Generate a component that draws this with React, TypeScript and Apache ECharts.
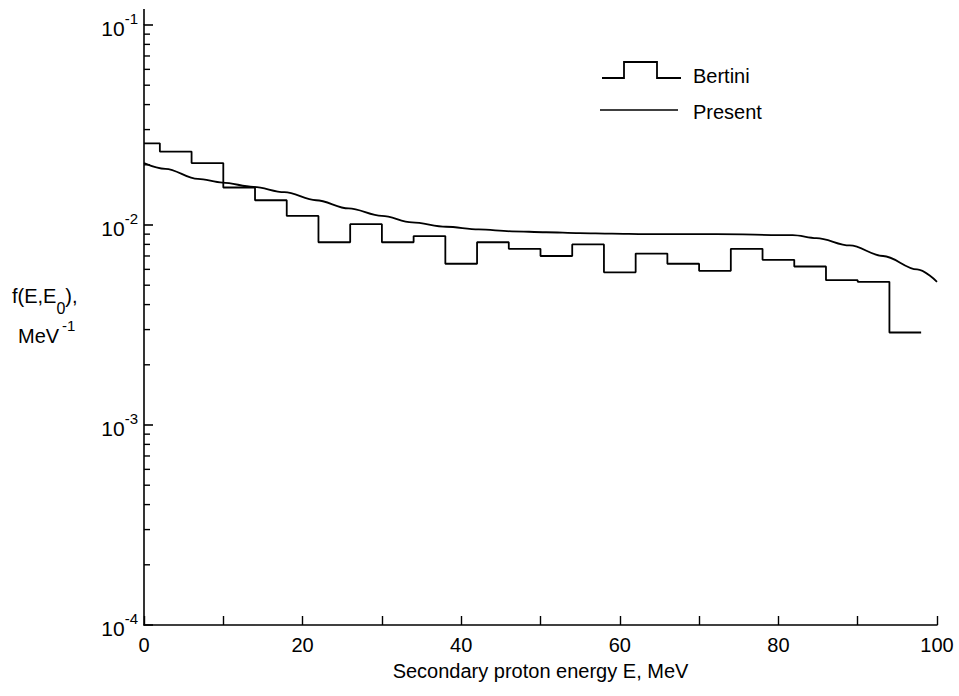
import React, { useEffect, useRef } from "react";
import * as echarts from "echarts";

// Bertini histogram: bin edges (MeV) and bin values (MeV^-1)
const bertiniEdges = [0, 2, 6, 10, 14, 18, 22, 26, 30, 34, 38, 42, 46, 50, 54, 58, 62, 66, 70, 74, 78, 82, 86, 90, 94, 98];
const bertiniValues = [
  0.0256, 0.0233, 0.0204, 0.0154, 0.0133, 0.0111, 0.0082, 0.0101, 0.0082, 0.0088,
  0.0064, 0.0082, 0.0076, 0.0070, 0.0080, 0.0058, 0.0072, 0.0064, 0.0059, 0.0076,
  0.0067, 0.0062, 0.0053, 0.0052, 0.0029,
];

// Present calculation (smooth curve)
const presentE = [0, 2.7, 6.8, 9.9, 13.8, 17.7, 21.7, 25.8, 30, 33.8, 38.1, 42.2, 46.4, 50.7, 54.9, 59, 63.3, 67.5, 72.2, 81.8, 84.8, 89, 93.2, 97.5, 100];
const presentF = [
  0.0204, 0.0191, 0.0170, 0.0163, 0.0155, 0.0146, 0.0133, 0.0121, 0.0111, 0.0103,
  0.0098, 0.0095, 0.0093, 0.0092, 0.0091, 0.00905, 0.009, 0.009, 0.009, 0.0089,
  0.0086, 0.0079, 0.007, 0.006, 0.0052,
];

// Axis structure
const xTickLabels = [0, 20, 40, 60, 80, 100];
const yMinorTicks = [
  2e-4, 3e-4, 4e-4, 5e-4, 6e-4, 7e-4, 8e-4, 9e-4,
  2e-3, 3e-3, 4e-3, 5e-3, 6e-3, 7e-3, 8e-3, 9e-3,
  2e-2, 3e-2, 4e-2, 5e-2, 6e-2, 7e-2, 8e-2, 9e-2,
];

const FONT = "'Liberation Sans', Arial, Helvetica, sans-serif";

export default function App() {
  const ref = useRef<HTMLDivElement>(null);

  useEffect(() => {
    if (!ref.current) return;
    const chart = echarts.init(ref.current, null, { renderer: "svg" });

    const histData: [number, number][] = bertiniEdges.map((e, i) => [
      e,
      bertiniValues[Math.min(i, bertiniValues.length - 1)],
    ]);
    const presentData: [number, number][] = presentE.map((e, i) => [e, presentF[i]]);

    const option: any = {
      animation: false,
      backgroundColor: "#ffffff",
      textStyle: { fontFamily: FONT, color: "#000" },
      grid: { left: 144, right: 22, top: 25, bottom: 71 },
      xAxis: {
        type: "value",
        min: 0,
        max: 100,
        interval: 10,
        name: "Secondary proton energy E, MeV",
        nameLocation: "middle",
        nameGap: 36,
        nameTextStyle: { fontFamily: FONT, fontSize: 20, color: "#000" },
        axisLine: { lineStyle: { color: "#000", width: 1.6 } },
        axisTick: { inside: true, length: 9, lineStyle: { color: "#000", width: 1.4 } },
        axisLabel: {
          margin: 10,
          fontFamily: FONT,
          fontSize: 20,
          color: "#000",
          formatter: (v: number) => (xTickLabels.includes(v) ? String(v) : ""),
        },
        splitLine: { show: false },
      },
      yAxis: {
        type: "log",
        logBase: 10,
        min: 1e-4,
        max: 1e-1,
        axisLine: { show: true, lineStyle: { color: "#000", width: 1.6 } },
        axisTick: { inside: true, length: 9, lineStyle: { color: "#000", width: 1.6 } },
        axisLabel: {
          margin: 6,
          formatter: (v: number) => `{b|10}{s|${Math.round(Math.log10(v))}}`,
          rich: {
            b: { fontFamily: FONT, fontSize: 21, color: "#000", lineHeight: 28, verticalAlign: "bottom" },
            s: { fontFamily: FONT, fontSize: 15, color: "#000", lineHeight: 16, verticalAlign: "top" },
          },
        },
        splitLine: { show: false },
      },
      series: [
        {
          name: "Bertini",
          type: "line",
          step: "end",
          data: histData,
          symbol: "none",
          lineStyle: { color: "#000", width: 1.8 },
          silent: true,
        },
        {
          name: "Present",
          type: "line",
          smooth: 0.35,
          smoothMonotone: "x",
          data: presentData,
          symbol: "none",
          lineStyle: { color: "#000", width: 1.8 },
          silent: true,
        },
        {
          name: "minorTicks",
          type: "custom",
          silent: true,
          clip: false,
          data: yMinorTicks.map((v) => [0, v]),
          encode: { x: 0, y: 1 },
          renderItem: (params: any, api: any) => {
            const p = api.coord([0, api.value(1)]);
            return {
              type: "line",
              shape: { x1: p[0], y1: p[1], x2: p[0] + 6, y2: p[1] },
              style: { stroke: "#000", lineWidth: 1.4 },
            };
          },
        },
      ],
      graphic: [
        {
          type: "line",
          shape: { x1: 144, y1: 9, x2: 144, y2: 25 },
          style: { stroke: "#000", lineWidth: 1.6 },
        },
        {
          type: "polyline",
          shape: { points: [[602, 78], [624, 78], [624, 62], [657, 62], [657, 78], [681, 78]] },
          style: { stroke: "#000", lineWidth: 1.8, fill: null },
        },
        {
          type: "text",
          x: 693,
          y: 76,
          style: { text: "Bertini", fontFamily: FONT, fontSize: 20, fill: "#000", verticalAlign: "middle" },
        },
        {
          type: "line",
          shape: { x1: 600, y1: 110, x2: 678, y2: 110 },
          style: { stroke: "#000", lineWidth: 1.6 },
        },
        {
          type: "text",
          x: 693,
          y: 112,
          style: { text: "Present", fontFamily: FONT, fontSize: 20, fill: "#000", verticalAlign: "middle" },
        },
        {
          type: "text",
          x: 12,
          y: 286,
          style: {
            text: "{a|f(E,E}{sub|0}{a|),}",
            rich: {
              a: { fontFamily: FONT, fontSize: 20, fill: "#000", lineHeight: 30, verticalAlign: "top" },
              sub: { fontFamily: FONT, fontSize: 16, fill: "#000", lineHeight: 18, verticalAlign: "bottom" },
            },
          },
        },
        {
          type: "text",
          x: 18,
          y: 318,
          style: {
            text: "{a|MeV}{sup|-1}",
            rich: {
              a: { fontFamily: FONT, fontSize: 20, fill: "#000", lineHeight: 28, verticalAlign: "bottom" },
              sup: { fontFamily: FONT, fontSize: 15, fill: "#000", lineHeight: 16, verticalAlign: "top", padding: [0, 0, 0, 3] },
            },
          },
        },
      ],
    };

    chart.setOption(option);
    return () => chart.dispose();
  }, []);

  return (
    <div
      ref={ref}
      style={{ position: "absolute", left: 0, top: 0, width: 959, height: 696, background: "#fff" }}
    />
  );
}
